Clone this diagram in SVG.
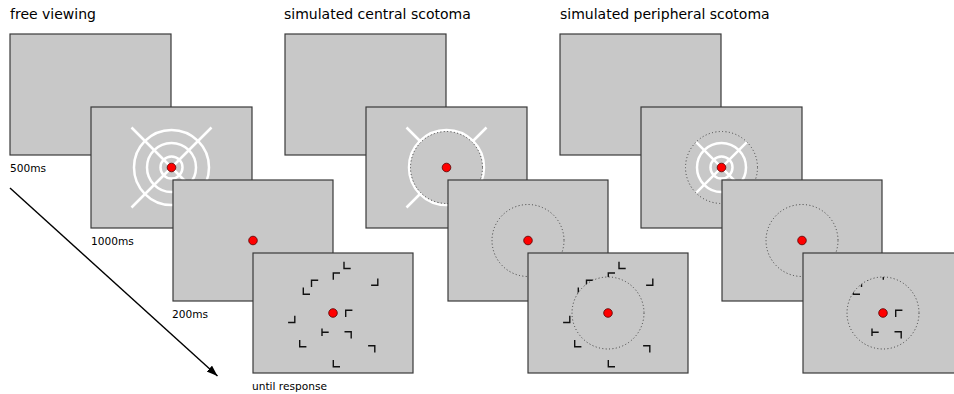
<svg xmlns="http://www.w3.org/2000/svg" xmlns:xlink="http://www.w3.org/1999/xlink" width="954" height="394" viewBox="0 0 954 394">
  <style>
    .screen { fill: #c8c8c8; stroke: #3a3a3a; stroke-width: 1.2; }
    .title { font-family: "DejaVu Sans", "Liberation Sans", sans-serif; font-size: 14px; fill: #000; }
    .label { font-family: "DejaVu Sans", "Liberation Sans", sans-serif; font-size: 10.6px; fill: #000; }
    .ring { fill: none; stroke: #fff; stroke-width: 2.5; }
    .dot { fill: #f00; stroke: #500; stroke-width: 0.8; }
    .scotoma { fill: none; stroke: #3c3c3c; stroke-width: 1; stroke-dasharray: 1 2.4; }
    .glyph { fill: none; stroke: #111; stroke-width: 1.4; stroke-linecap: square; }
    .arrow { stroke: #000; stroke-width: 1.4; fill: none; }
  </style>
  <defs>
    <marker id="arrowhead" markerUnits="userSpaceOnUse" markerWidth="12" markerHeight="9" refX="11" refY="4" orient="auto">
      <path d="M0,0 L11,4 L0,8 Z" fill="#000"/>
    </marker>
    <!-- gaze-contingent masks, centred on the fixation point -->
    <clipPath id="inside" clipPathUnits="userSpaceOnUse">
      <circle cx="0" cy="0" r="36"/>
    </clipPath>
    <clipPath id="outside" clipPathUnits="userSpaceOnUse">
      <path clip-rule="evenodd" d="M-200,-200H200V200H-200Z M36,0 A36,36 0 1,0 -36,0 A36,36 0 1,0 36,0 Z"/>
    </clipPath>
    <!-- fixation target: concentric rings and diagonal cross -->
    <g id="fix-target">
      <circle class="ring" r="37.5"/>
      <circle class="ring" r="24.5"/>
      <circle class="ring" r="11"/>
      <line class="ring" x1="-40" y1="-40" x2="40" y2="40"/>
      <line class="ring" x1="40" y1="-40" x2="-40" y2="40"/>
    </g>
    <!-- search letters -->
    <path id="gL" class="glyph" d="M-3,-3V3H3"/>
    <path id="gG" class="glyph" d="M-3,3V-3H3"/>
    <path id="gJ" class="glyph" d="M3,-3V3H-3"/>
    <path id="gR" class="glyph" d="M-3,-3H3V3"/>
    <path id="gT" class="glyph" d="M-3,-3V3M-3,0H3"/>
    <g id="search-items">
      <use href="#gL" x="14" y="-47.5"/>
      <use href="#gG" x="3.3" y="-37"/>
      <use href="#gG" x="-18.5" y="-29.7"/>
      <use href="#gL" x="-26.7" y="-21.7"/>
      <use href="#gJ" x="41.8" y="-30.7"/>
      <use href="#gJ" x="-41.2" y="6.5"/>
      <use href="#gG" x="15.7" y="0.3"/>
      <use href="#gT" x="-8" y="19.3"/>
      <use href="#gR" x="15.2" y="21.7"/>
      <use href="#gL" x="-30.3" y="30.7"/>
      <use href="#gR" x="38.8" y="35.7"/>
      <use href="#gL" x="3.3" y="50.7"/>
    </g>
  </defs>

  <!-- column headings -->
  <text class="title" x="10" y="19">free viewing</text>
  <text class="title" x="284" y="19">simulated central scotoma</text>
  <text class="title" x="560" y="19">simulated peripheral scotoma</text>

  <!-- free viewing -->
  <g id="fv-blank">
    <rect class="screen" x="10" y="34" width="161" height="121"/>
  </g>
  <g id="fv-fixation">
    <rect class="screen" x="91" y="107" width="161" height="121"/>
    <use href="#fix-target" x="171.5" y="167.5"/>
    <circle class="dot" cx="171.5" cy="167.5" r="4.3"/>
  </g>
  <g id="fv-cue">
    <rect class="screen" x="173" y="180" width="160" height="121"/>
    <circle class="dot" cx="253" cy="240.5" r="4.3"/>
  </g>
  <g id="fv-search">
    <rect class="screen" x="253" y="253" width="160" height="120"/>
    <use href="#search-items" x="333" y="313"/>
    <circle class="dot" cx="333" cy="313" r="4.3"/>
  </g>

  <!-- simulated central scotoma -->
  <g id="cs-blank">
    <rect class="screen" x="285" y="34" width="161" height="121"/>
  </g>
  <g id="cs-fixation">
    <rect class="screen" x="366" y="107" width="161" height="121"/>
    <g transform="translate(446.5,167.5)">
      <g clip-path="url(#outside)"><use href="#fix-target"/></g>
      <circle class="scotoma" r="36"/>
      <circle class="dot" r="4.3"/>
    </g>
  </g>
  <g id="cs-cue">
    <rect class="screen" x="448" y="180" width="160" height="121"/>
    <g transform="translate(528,240.5)">
      <circle class="scotoma" r="36"/>
      <circle class="dot" r="4.3"/>
    </g>
  </g>
  <g id="cs-search">
    <rect class="screen" x="528" y="253" width="160" height="120"/>
    <g transform="translate(608,313)">
      <g clip-path="url(#outside)"><use href="#search-items"/></g>
      <circle class="scotoma" r="36"/>
      <circle class="dot" r="4.3"/>
    </g>
  </g>

  <!-- simulated peripheral scotoma -->
  <g id="ps-blank">
    <rect class="screen" x="560" y="34" width="161" height="121"/>
  </g>
  <g id="ps-fixation">
    <rect class="screen" x="641" y="107" width="161" height="121"/>
    <g transform="translate(721.5,167.5)">
      <g clip-path="url(#inside)"><use href="#fix-target"/></g>
      <circle class="scotoma" r="36"/>
      <circle class="dot" r="4.3"/>
    </g>
  </g>
  <g id="ps-cue">
    <rect class="screen" x="722" y="180" width="160" height="121"/>
    <g transform="translate(802,240.5)">
      <circle class="scotoma" r="36"/>
      <circle class="dot" r="4.3"/>
    </g>
  </g>
  <g id="ps-search">
    <rect class="screen" x="803" y="253" width="160" height="120"/>
    <g transform="translate(883,313)">
      <g clip-path="url(#inside)"><use href="#search-items"/></g>
      <circle class="scotoma" r="36"/>
      <circle class="dot" r="4.3"/>
    </g>
  </g>

  <!-- durations -->
  <text class="label" x="10" y="172">500ms</text>
  <text class="label" x="91" y="245">1000ms</text>
  <text class="label" x="172" y="317.5">200ms</text>
  <text class="label" x="252" y="390">until response</text>

  <!-- time axis -->
  <g id="connectors">
    <line class="arrow" x1="10" y1="188" x2="217.5" y2="376" marker-end="url(#arrowhead)"/>
  </g>
</svg>
